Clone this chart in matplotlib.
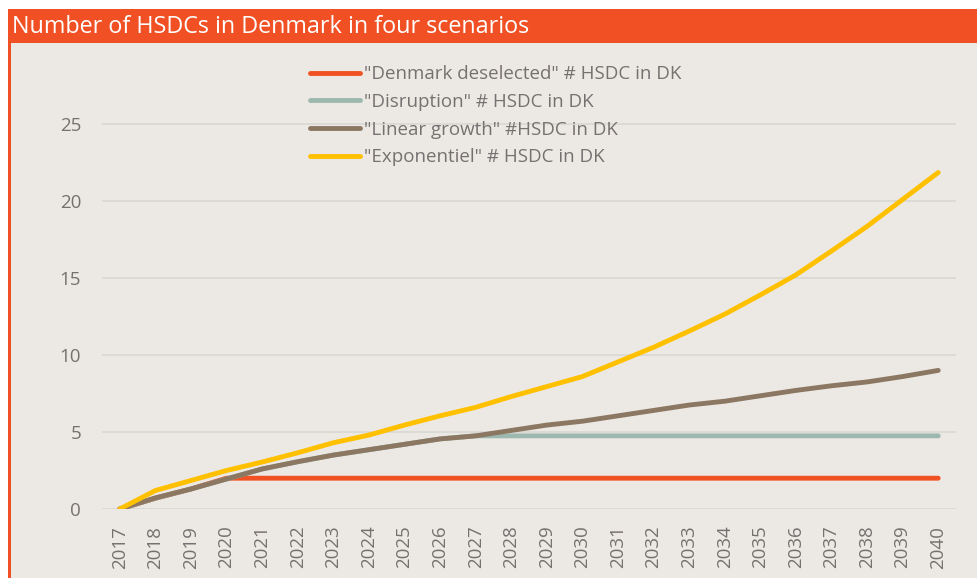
import matplotlib
matplotlib.use("Agg")
import matplotlib.pyplot as plt
from matplotlib.patches import Rectangle

# Data
years = list(range(2017, 2041))
deselected = [0, 0.7, 1.3, 2.0, 2.0, 2.0, 2.0, 2.0, 2.0, 2.0, 2.0, 2.0,
              2.0, 2.0, 2.0, 2.0, 2.0, 2.0, 2.0, 2.0, 2.0, 2.0, 2.0, 2.0]
disruption = [0, 0.7, 1.3, 1.95, 2.6, 3.07, 3.5, 3.85, 4.2, 4.55, 4.75, 4.75,
              4.75, 4.75, 4.75, 4.75, 4.75, 4.75, 4.75, 4.75, 4.75, 4.75, 4.75, 4.75]
linear = [0, 0.72, 1.3, 1.95, 2.6, 3.07, 3.5, 3.85, 4.2, 4.55, 4.75, 5.1,
          5.45, 5.7, 6.05, 6.4, 6.75, 7.0, 7.35, 7.7, 8.0, 8.25, 8.6, 9.0]
expo = [0, 1.2, 1.85, 2.5, 3.05, 3.65, 4.3, 4.8, 5.45, 6.05, 6.6, 7.3,
        7.95, 8.6, 9.55, 10.5, 11.55, 12.65, 13.9, 15.2, 16.75, 18.35, 20.1, 21.85]

labels = ['"Denmark deselected" # HSDC in DK',
          '"Disruption" # HSDC in DK',
          '"Linear growth" #HSDC in DK',
          '"Exponentiel" # HSDC in DK']
colors = ["#F05223", "#9DB9AF", "#8B7762", "#FFC000"]

W, H = 978, 578
bg = "#ECE9E4"
orange = "#F05023"
grey = "#767171"

plt.rcParams['font.family'] = ['Open Sans', 'DejaVu Sans']

fig = plt.figure(figsize=(W / 100, H / 100), dpi=100)
fig.patch.set_facecolor("white")

# panel background, title bar and left border
fig.patches.append(Rectangle((10 / W, 0), 968 / W, 569 / H, transform=fig.transFigure,
                             facecolor=bg, edgecolor="none", zorder=-10))
fig.patches.append(Rectangle((8 / W, (H - 43) / H), 970 / W, 34 / H, transform=fig.transFigure,
                             facecolor=orange, edgecolor="none", zorder=-5))
fig.patches.append(Rectangle((8 / W, 0), 2.5 / W, 569 / H, transform=fig.transFigure,
                             facecolor=orange, edgecolor="none", zorder=-5))
fig.text(12 / W, 1 - 27 / H, "Number of HSDCs in Denmark in four scenarios",
         color="white", fontsize=16.8, va="center", ha="left")

ax = fig.add_axes([102 / W, 1 - 509 / H, 854 / W, (509 - 47) / H])
ax.set_facecolor("none")

for vals, lab, col in zip([deselected, disruption, linear, expo], labels, colors):
    ax.plot(years, vals, color=col, lw=3.5, label=lab, solid_capstyle="round",
            solid_joinstyle="round")

ax.set_xlim(2016.5, 2040.5)
ax.set_ylim(0, 30)
ax.set_yticks([0, 5, 10, 15, 20, 25])
ax.set_xticks(years)
ax.set_xticklabels([str(y) for y in years], rotation=90)
ax.grid(axis="y", color="#D9D7D3", lw=1.2)
ax.set_axisbelow(True)
for s in ax.spines.values():
    s.set_visible(False)
ax.tick_params(axis="both", length=0, colors=grey, labelsize=13.5)
ax.tick_params(axis="y", pad=15)
ax.tick_params(axis="x", pad=12)

leg = ax.legend(loc="upper left", bbox_to_anchor=(0.235, 0.977), frameon=False,
                fontsize=13.5, handlelength=2.65, handletextpad=0.22,
                labelspacing=0.52, borderaxespad=0)
for t in leg.get_texts():
    t.set_color(grey)

fig.savefig("out.png", dpi=100, facecolor=fig.get_facecolor())
